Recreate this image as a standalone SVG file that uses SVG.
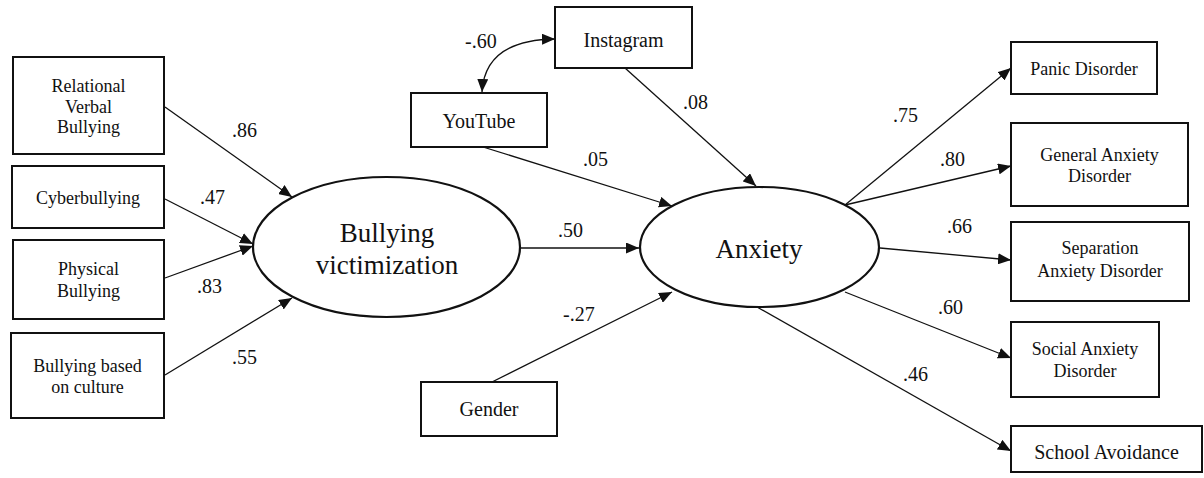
<svg xmlns="http://www.w3.org/2000/svg" width="1204" height="478" viewBox="0 0 1204 478">
<style>
.box{fill:#fff;stroke:#111;stroke-width:2}
.lat{fill:#fff;stroke:#111;stroke-width:2.2}
.t{font-family:"Liberation Serif","Times New Roman",serif;font-size:18px;fill:#111;text-anchor:middle}
.t20{font-size:20px}
.big{font-size:27px}
.lab{font-family:"Liberation Serif","Times New Roman",serif;font-size:20px;fill:#111}
.c{fill:none;stroke:#111;stroke-width:1.3;marker-end:url(#ah)}
</style>
<defs>
<marker id="ah" markerUnits="userSpaceOnUse" markerWidth="13" markerHeight="11" refX="13" refY="5.5" orient="auto">
<path d="M0,0 L13,5.5 L0,11 z" fill="#111"/>
</marker>
<marker id="ah2" markerUnits="userSpaceOnUse" markerWidth="13" markerHeight="11" refX="13" refY="5.5" orient="auto-start-reverse">
<path d="M0,0 L13,5.5 L0,11 z" fill="#111"/>
</marker>
</defs>

<g id="connectors">
<line class="c" x1="165" y1="107" x2="292" y2="197"/>
<line class="c" x1="165" y1="199" x2="253" y2="244"/>
<line class="c" x1="165" y1="278" x2="253" y2="246"/>
<line class="c" x1="165" y1="375" x2="292" y2="298"/>
<line class="c" x1="521" y1="248" x2="639" y2="248"/>
<line class="c" x1="625" y1="68" x2="756" y2="186"/>
<line class="c" x1="483" y1="147" x2="672" y2="206"/>
<line class="c" x1="492" y1="382" x2="672" y2="292"/>
<path d="M482,92 Q485,40 555,39" fill="none" stroke="#111" stroke-width="1.3" marker-start="url(#ah2)" marker-end="url(#ah2)"/>
<line class="c" x1="845" y1="205" x2="1011" y2="68"/>
<line class="c" x1="845" y1="205" x2="1011" y2="166"/>
<line class="c" x1="880" y1="248" x2="1011" y2="260"/>
<line class="c" x1="845" y1="292" x2="1011" y2="358"/>
<line class="c" x1="757" y1="307" x2="1011" y2="451"/>
<text class="lab" x="232" y="137">.86</text>
<text class="lab" x="200" y="204">.47</text>
<text class="lab" x="197" y="293">.83</text>
<text class="lab" x="232" y="364">.55</text>
<text class="lab" x="465" y="48">-.60</text>
<text class="lab" x="683" y="109">.08</text>
<text class="lab" x="583" y="166">.05</text>
<text class="lab" x="558" y="237">.50</text>
<text class="lab" x="563" y="321">-.27</text>
<text class="lab" x="893" y="122">.75</text>
<text class="lab" x="940" y="166">.80</text>
<text class="lab" x="947" y="233">.66</text>
<text class="lab" x="938" y="314">.60</text>
<text class="lab" x="903" y="381">.46</text>
</g>

<g id="relational">
<rect class="box" x="13" y="57" width="151" height="97"/>
<text class="t" x="88.5" y="92">Relational</text>
<text class="t" x="88.5" y="113">Verbal</text>
<text class="t" x="88.5" y="133">Bullying</text>
</g>
<g id="cyberbullying">
<rect class="box" x="12" y="166" width="152" height="62"/>
<text class="t" x="88" y="204">Cyberbullying</text>
</g>
<g id="physical">
<rect class="box" x="13" y="240" width="151" height="79"/>
<text class="t" x="88.5" y="275">Physical</text>
<text class="t" x="88.5" y="297">Bullying</text>
</g>
<g id="culture">
<rect class="box" x="11" y="333" width="153" height="85"/>
<text class="t" x="87.5" y="372">Bullying based</text>
<text class="t" x="87.5" y="393">on culture</text>
</g>

<g id="bullying-victimization">
<ellipse class="lat" cx="386.5" cy="247" rx="133.5" ry="70"/>
<text class="t big" x="387" y="242">Bullying</text>
<text class="t big" x="387" y="274">victimization</text>
</g>

<g id="instagram">
<rect class="box" x="555" y="7" width="137" height="61"/>
<text class="t t20" x="623.5" y="47">Instagram</text>
</g>
<g id="youtube">
<rect class="box" x="411" y="93" width="136" height="54"/>
<text class="t t20" x="479" y="128">YouTube</text>
</g>
<g id="gender">
<rect class="box" x="421" y="382" width="136" height="54"/>
<text class="t t20" x="489" y="416">Gender</text>
</g>

<g id="anxiety">
<ellipse class="lat" cx="759.5" cy="247" rx="119.5" ry="60"/>
<text class="t big" x="759" y="258">Anxiety</text>
</g>

<g id="panic">
<rect class="box" x="1011" y="42" width="146" height="52"/>
<text class="t" x="1084" y="75">Panic Disorder</text>
</g>
<g id="general">
<rect class="box" x="1011" y="123" width="177" height="83"/>
<text class="t" x="1099.5" y="161">General Anxiety</text>
<text class="t" x="1099.5" y="182">Disorder</text>
</g>
<g id="separation">
<rect class="box" x="1011" y="222" width="178" height="79"/>
<text class="t" x="1100" y="254">Separation</text>
<text class="t" x="1100" y="277">Anxiety Disorder</text>
</g>
<g id="social">
<rect class="box" x="1011" y="322" width="148" height="75"/>
<text class="t" x="1085" y="355">Social Anxiety</text>
<text class="t" x="1085" y="377">Disorder</text>
</g>
<g id="school">
<rect class="box" x="1011" y="426" width="191" height="46"/>
<text class="t t20" x="1106.5" y="459">School Avoidance</text>
</g>
</svg>
